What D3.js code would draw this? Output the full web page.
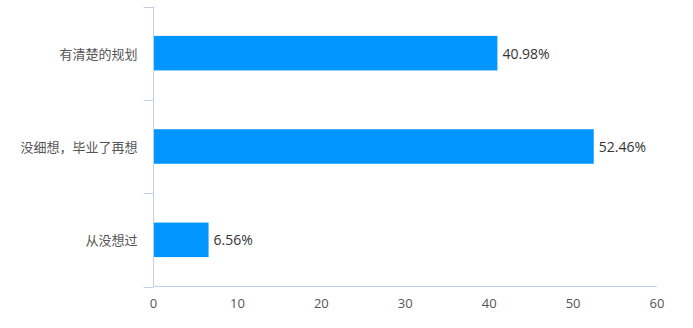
<!DOCTYPE html>
<html><head><meta charset="utf-8">
<script src="https://cdn.jsdelivr.net/npm/d3@7"></script>
<style>body{margin:0;background:#fff;}svg{display:block;}</style>
</head><body>
<svg id="c" width="693" height="328"></svg>
<script>
const categories = ["有清楚的规划", "没细想，毕业了再想", "从没想过"];
const values = [40.98, 52.46, 6.56];
const xTicks = [0, 10, 20, 30, 40, 50, 60];

const svg = d3.select("#c");
const font = "'Noto Sans CJK SC','Noto Sans',sans-serif";
const numFont = "'Open Sans','Noto Sans',sans-serif";
const m = {left: 153.5, right: 657, top: 6.5, bottom: 286.5};
const x = d3.scaleLinear().domain([0, 60]).range([m.left, m.right]);
const y = d3.scaleBand().domain(categories).range([m.top, m.bottom]).paddingInner(0.63).paddingOuter(0.315);
const y0 = d3.scaleBand().domain(categories).range([m.top, m.bottom]);
const axisColor = "#c3d1e8";

// bars
svg.append("g").selectAll("rect").data(values).join("rect")
  .attr("x", x(0)).attr("y", (d,i)=>y(categories[i]))
  .attr("width", d=>x(d)-x(0)).attr("height", y.bandwidth())
  .attr("fill", "#0095ff");

// y axis
const ya = svg.append("g");
ya.append("line").attr("x1", m.left).attr("x2", m.left).attr("y1", m.top).attr("y2", m.bottom).attr("stroke", axisColor);
const bounds = categories.map(c=>y0(c)).concat([m.bottom]);
ya.selectAll("line.t").data(bounds).join("line").attr("class","t")
  .attr("x1", m.left-10).attr("x2", m.left).attr("y1", d=>Math.round(d)+0.5).attr("y2", d=>Math.round(d)+0.5).attr("stroke", axisColor);
ya.selectAll("text").data(categories).join("text")
  .attr("x", m.left-16).attr("y", d=>y0(d)+y0.bandwidth()/2)
  .attr("text-anchor","end").attr("dominant-baseline","central")
  .attr("font-family", font).attr("font-size", 13).attr("fill", "#555")
  .text(d=>d);

// x axis
const xa = svg.append("g");
xa.append("line").attr("x1", m.left).attr("x2", m.right).attr("y1", m.bottom).attr("y2", m.bottom).attr("stroke", axisColor);
xa.selectAll("text").data(xTicks).join("text")
  .attr("x", d=>x(d)).attr("y", 303)
  .attr("text-anchor","middle").attr("dominant-baseline","central")
  .attr("font-family", numFont).attr("font-size", 13).attr("fill", "#555")
  .text(d=>d);

// value labels
svg.append("g").selectAll("text").data(values).join("text")
  .attr("x", d=>x(d)+5).attr("y", (d,i)=>y(categories[i])+y.bandwidth()/2)
  .attr("dominant-baseline","central")
  .attr("font-family", numFont).attr("font-size", 14).attr("fill", "#333")
  .text(d=>d.toFixed(2)+"%");
</script>
</body></html>
